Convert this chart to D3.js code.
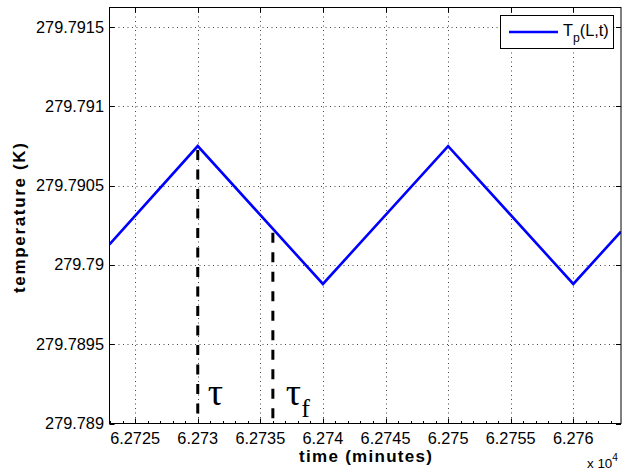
<!DOCTYPE html>
<html lang="en">
<head>
<meta charset="UTF-8">
<title>Temperature vs time</title>
<script src="https://d3js.org/d3.v7.min.js"></script>
<style>
  body { margin: 0; background: #fff; }
  svg { display: block; font-family: "Liberation Sans", Arial, sans-serif; }
</style>
</head>
<body>
<div id="chart"></div>
<script>
// data (time in minutes, temperature in K)
const timeMin = [62722.95, 62730, 62740, 62750, 62760, 62763.8];
const tempK   = [279.79013, 279.79075, 279.78988, 279.79075, 279.78988, 279.79021];

// the two marked instants
const markTimes  = [62730, 62736];
const markLabels = ["τ", "τ"];
const markSubs   = ["", "f"];

const xTicks = [62725, 62730, 62735, 62740, 62745, 62750, 62755, 62760];
const yTicks = [279.789, 279.7895, 279.79, 279.7905, 279.791, 279.7915];

const width = 623, height = 470;
const mLeft = 109.5, mRight = 621, mTop = 7.5, mBottom = 423.5;

const x = d3.scaleLinear().domain([62722.95, 62763.81]).range([mLeft, mRight]);
const y = d3.scaleLinear().domain([279.789, 279.791624]).range([mBottom, mTop]);

const svg = d3.select("#chart").append("svg")
    .attr("width", width)
    .attr("height", height);

// pick a tick font size so that "279.7915" is ~68px wide, as in the figure
const probe = svg.append("text").attr("font-size", 16).text("279.7915");
const tickSize = 16 * 68 / probe.node().getComputedTextLength();
probe.remove();

svg.append("defs").append("clipPath").attr("id", "clip")
  .append("rect")
    .attr("x", mLeft).attr("y", mTop)
    .attr("width", mRight - mLeft).attr("height", mBottom - mTop);

// grid (dotted)
const grid = svg.append("g")
    .attr("stroke", "#444")
    .attr("stroke-width", 1)
    .attr("stroke-dasharray", "1,3.5");
grid.selectAll(".gx").data(xTicks).join("line")
    .attr("x1", d => Math.round(x(d)) + 0.5).attr("x2", d => Math.round(x(d)) + 0.5)
    .attr("y1", mTop).attr("y2", mBottom);
grid.selectAll(".gy").data(yTicks.slice(1)).join("line")
    .attr("y1", d => Math.round(y(d)) + 0.5).attr("y2", d => Math.round(y(d)) + 0.5)
    .attr("x1", mLeft).attr("x2", mRight);

// the curve
const pts = timeMin.map((t, i) => [t, tempK[i]]);
svg.append("path")
    .datum(pts)
    .attr("clip-path", "url(#clip)")
    .attr("fill", "none")
    .attr("stroke", "#0000ff")
    .attr("stroke-width", 2.6)
    .attr("d", d3.line().x(d => x(d[0])).y(d => y(d[1])));

// dashed markers down from the curve
const curveAt = t => {
  for (let i = 1; i < timeMin.length; i++) {
    if (t <= timeMin[i]) {
      const f = (t - timeMin[i - 1]) / (timeMin[i] - timeMin[i - 1]);
      return tempK[i - 1] + f * (tempK[i] - tempK[i - 1]);
    }
  }
  return tempK[tempK.length - 1];
};
svg.append("g").selectAll("line").data(markTimes).join("line")
    .attr("x1", d => x(d)).attr("x2", d => x(d))
    .attr("y1", d => y(curveAt(d)) + 4).attr("y2", mBottom)
    .attr("stroke", "#000")
    .attr("stroke-width", 3)
    .attr("stroke-dasharray", "10,9.5");

// greek labels next to the dashed lines
const labelDx = [10, 13];
const marks = svg.append("g")
    .attr("font-family", "'Liberation Serif', 'Times New Roman', serif");
markTimes.forEach((t, i) => {
  const txt = marks.append("text")
      .attr("x", x(t) + labelDx[i])
      .attr("y", 405)
      .attr("font-size", 38)
      .text(markLabels[i]);
  if (markSubs[i]) {
    txt.append("tspan")
        .attr("dy", 12)
        .attr("font-size", 26)
        .text(markSubs[i]);
  }
});

// axes box
svg.append("rect")
    .attr("x", mLeft).attr("y", mTop)
    .attr("width", mRight - mLeft).attr("height", mBottom - mTop)
    .attr("fill", "none")
    .attr("stroke", "#000")
    .attr("stroke-width", 1);

// ticks, inward on all four sides
const tk = svg.append("g").attr("stroke", "#000").attr("stroke-width", 1);
xTicks.forEach(v => {
  const px = Math.round(x(v)) + 0.5;
  tk.append("line").attr("x1", px).attr("x2", px).attr("y1", mBottom).attr("y2", mBottom - 5);
  tk.append("line").attr("x1", px).attr("x2", px).attr("y1", mTop).attr("y2", mTop + 5);
});
d3.range(62723, 62764, 1).forEach(v => {
  const px = Math.round(x(v)) + 0.5;
  tk.append("line").attr("x1", px).attr("x2", px).attr("y1", mBottom).attr("y2", mBottom - 2.5);
});
yTicks.forEach(v => {
  const py = Math.round(y(v)) + 0.5;
  tk.append("line").attr("y1", py).attr("y2", py).attr("x1", mLeft).attr("x2", mLeft + 5);
  tk.append("line").attr("y1", py).attr("y2", py).attr("x1", mRight).attr("x2", mRight - 5);
});

const fmt = v => String(+v.toFixed(4));

svg.append("g").selectAll("text").data(xTicks).join("text")
    .attr("x", d => x(d))
    .attr("y", 444)
    .attr("text-anchor", "middle")
    .attr("font-size", tickSize)
    .text(d => fmt(d / 1e4));

svg.append("g").selectAll("text").data(yTicks).join("text")
    .attr("x", 104)
    .attr("y", d => y(d) + 5.5)
    .attr("text-anchor", "end")
    .attr("font-size", tickSize)
    .text(d => fmt(d));

// axis labels
svg.append("text")
    .attr("x", 299)
    .attr("y", 462)
    .attr("font-size", 17)
    .attr("font-weight", "bold")
    .attr("textLength", 133)
    .attr("lengthAdjust", "spacing")
    .text("time (minutes)");

svg.append("text")
    .attr("transform", `translate(25,293) rotate(-90)`)
    .attr("font-size", 17)
    .attr("font-weight", "bold")
    .attr("textLength", 150)
    .attr("lengthAdjust", "spacing")
    .text("temperature (K)");

const mult = svg.append("text")
    .attr("x", 587)
    .attr("y", 468)
    .attr("font-size", tickSize * 0.82)
    .text("x 10");
mult.append("tspan").attr("dy", -7).attr("font-size", tickSize * 0.62).text("4");

// legend
const lg = svg.append("g");
lg.append("rect")
    .attr("x", 500.5).attr("y", 15.5)
    .attr("width", 113).attr("height", 33)
    .attr("fill", "#fff").attr("stroke", "#000");
lg.append("line")
    .attr("x1", 509).attr("x2", 558).attr("y1", 32).attr("y2", 32)
    .attr("stroke", "#0000ff").attr("stroke-width", 2.6);
const lt = lg.append("text")
    .attr("x", 563).attr("y", 36)
    .attr("font-size", tickSize);
lt.append("tspan").text("T");
lt.append("tspan").attr("dy", 6).attr("font-size", tickSize * 0.75).text("p");
lt.append("tspan").attr("dy", -6).text("(L,t)");
</script>
</body>
</html>
